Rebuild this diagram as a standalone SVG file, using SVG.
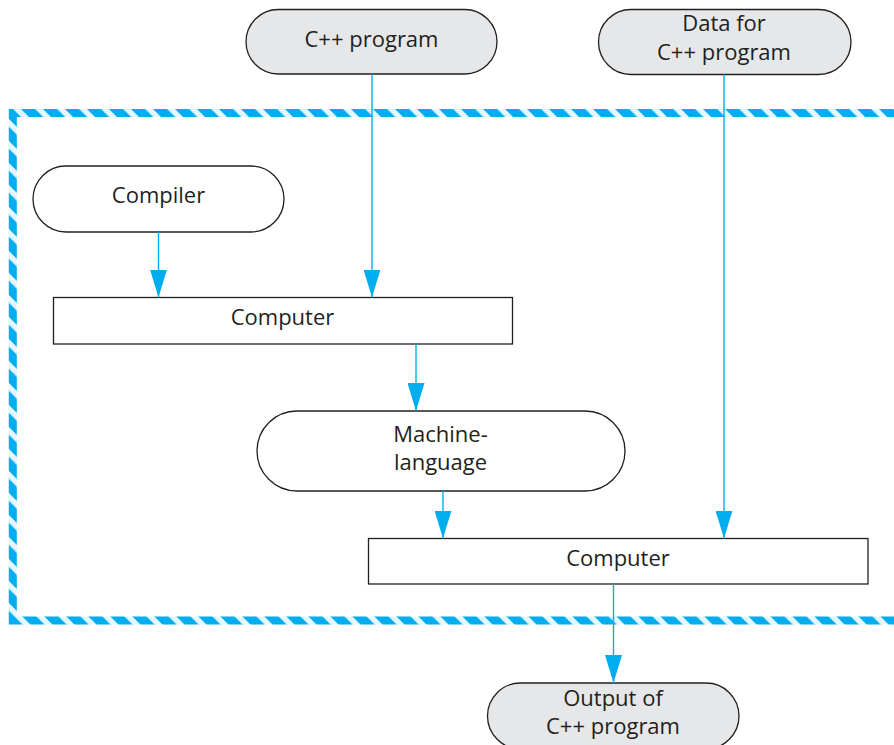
<svg xmlns="http://www.w3.org/2000/svg" width="894" height="745" viewBox="0 0 894 745">
<style>
.term{stroke:#231f20;stroke-width:1.3}
.gray{fill:#e6e7e8}
.white{fill:#ffffff}
.box{fill:#ffffff;stroke:#231f20;stroke-width:1.3}
.lbl{font-family:"Open Sans","Noto Sans","DejaVu Sans",sans-serif;font-size:22px;fill:#231f20;text-anchor:middle}
.conn{stroke:#00aeef;stroke-width:1.4;fill:none}
</style>
<defs>
<pattern id="hatch" patternUnits="userSpaceOnUse" width="15.56" height="15.56" patternTransform="rotate(-45)">
<rect width="15.56" height="15.56" fill="#e6f6fd"/>
<rect width="10" height="15.56" fill="#00aeef"/>
</pattern>
<marker id="arr" viewBox="0 0 28 17" refX="28" refY="8.5" markerWidth="28" markerHeight="17" markerUnits="userSpaceOnUse" orient="auto">
<path d="M0,0 L28,8.5 L0,17 Z" fill="#00aeef"/>
</marker>
</defs>
<rect width="894" height="745" fill="#ffffff"/>
<g id="boundary">
<path d="M 900 113 H 12.8 V 620.5 H 900" fill="none" stroke="url(#hatch)" stroke-width="8" stroke-linejoin="miter"/>
</g>
<g id="cpp-program">
<rect class="term gray" x="246" y="9.5" width="251" height="64.5" rx="32.25"/>
<text class="lbl" x="371.5" y="46.5">C++ program</text>
</g>
<g id="data">
<rect class="term gray" x="598.5" y="9.5" width="252.5" height="65" rx="32.5"/>
<text class="lbl" x="724" y="31">Data for</text>
<text class="lbl" x="724" y="59.5">C++ program</text>
</g>
<g id="compiler">
<rect class="term white" x="33" y="166" width="251" height="66" rx="33"/>
<text class="lbl" x="158.5" y="203">Compiler</text>
</g>
<g id="computer1">
<rect class="box" x="53.5" y="297.5" width="459" height="46.5"/>
<text class="lbl" x="282.5" y="325">Computer</text>
</g>
<g id="machine-language">
<rect class="term white" x="257" y="411" width="368" height="80" rx="40"/>
<text class="lbl" x="440.5" y="441.5">Machine-</text>
<text class="lbl" x="440.5" y="469.5">language</text>
</g>
<g id="computer2">
<rect class="box" x="368.5" y="538.5" width="499.5" height="45.5"/>
<text class="lbl" x="618" y="565.5">Computer</text>
</g>
<g id="output">
<rect class="term gray" x="487.5" y="683" width="251.5" height="66" rx="33"/>
<text class="lbl" x="613" y="705.5">Output of</text>
<text class="lbl" x="613" y="733.5">C++ program</text>
</g>
<g id="connectors">
<line class="conn" x1="372" y1="74" x2="372" y2="297.5" marker-end="url(#arr)"/>
<line class="conn" x1="724" y1="74.5" x2="724" y2="538.5" marker-end="url(#arr)"/>
<line class="conn" x1="158.5" y1="232" x2="158.5" y2="297.5" marker-end="url(#arr)"/>
<line class="conn" x1="416" y1="344" x2="416" y2="411" marker-end="url(#arr)"/>
<line class="conn" x1="443" y1="491" x2="443" y2="538.5" marker-end="url(#arr)"/>
<line class="conn" x1="613.5" y1="584" x2="613.5" y2="683" marker-end="url(#arr)"/>
</g>
</svg>
